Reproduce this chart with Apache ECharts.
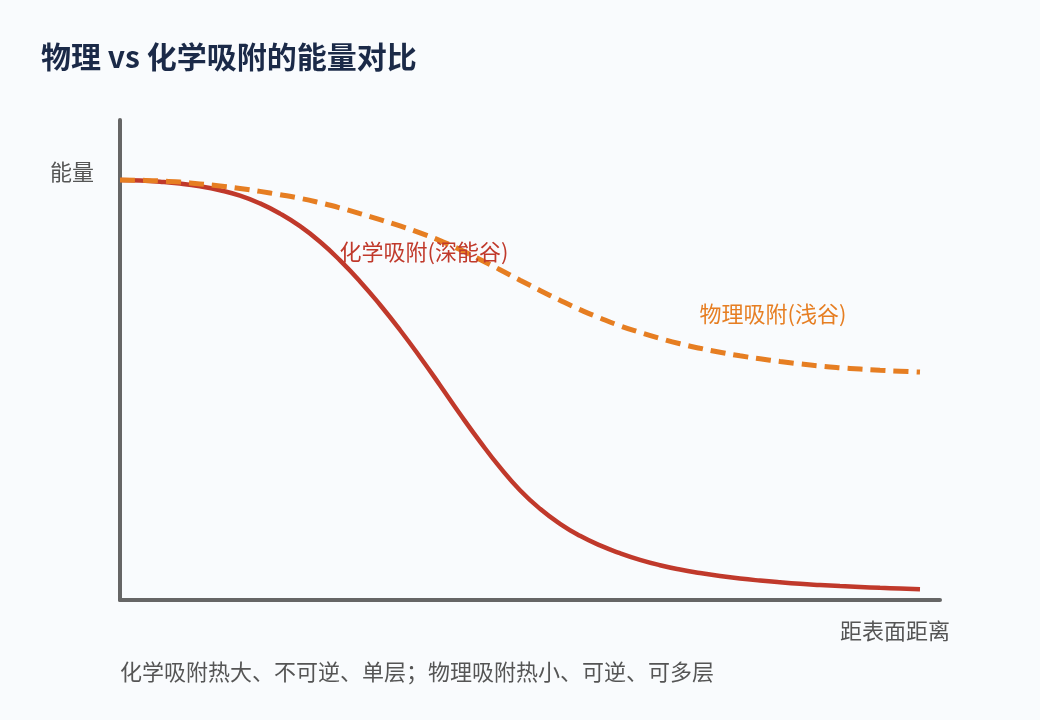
<!DOCTYPE html>
<html>
<head>
<meta charset="utf-8">
<script src="https://cdn.jsdelivr.net/npm/echarts@6/dist/echarts.min.js"></script>
<style>
    html, body { margin: 0; padding: 0; background: #f9fbfd; }
    #chart { width: 1040px; height: 720px; }
</style>
</head>
<body>
<div id="chart"></div>
<script>
const FONT = "'Noto Sans CJK SC', 'Noto Sans', sans-serif";

// distance from surface (arbitrary units)
const distance = [0, 1, 2, 3, 4, 5, 6, 7, 8, 9, 10, 11, 12, 13, 14, 15, 16, 17, 18, 19, 20,
    21, 22, 23, 24, 25, 26, 27, 28, 29, 30, 31, 32, 33, 34, 35, 36, 37, 38, 39, 40];

// chemisorption: deep well
const chemEnergy = [7.00, 6.99, 6.97, 6.94, 6.895, 6.83, 6.74, 6.61, 6.44, 6.23, 5.97,
    5.66, 5.31, 4.92, 4.50, 4.05, 3.58, 3.10, 2.64, 2.21, 1.83,
    1.52, 1.27, 1.07, 0.91, 0.78, 0.67, 0.58, 0.508, 0.45, 0.40,
    0.358, 0.324, 0.295, 0.27, 0.25, 0.232, 0.217, 0.203, 0.191, 0.18];

// physisorption: shallow well
const physEnergy = [7.00, 6.995, 6.985, 6.965, 6.935, 6.90, 6.86, 6.81, 6.755, 6.695, 6.62,
    6.535, 6.44, 6.34, 6.235, 6.12, 5.99, 5.84, 5.675, 5.505, 5.33,
    5.16, 4.995, 4.84, 4.70, 4.57, 4.46, 4.36, 4.27, 4.195, 4.13,
    4.07, 4.02, 3.975, 3.935, 3.90, 3.872, 3.849, 3.829, 3.813, 3.80];

const seriesNames = ['化学吸附(深能谷)', '物理吸附(浅谷)'];
// where each series label sits, in data coords
const labelCoords = [[15.2, 5.8], [32.65, 4.78]];

const titleText = '物理 vs 化学吸附的能量对比';
const yName = '能量';
const xName = '距表面距离';
const note = '化学吸附热大、不可逆、单层；物理吸附热小、可逆、可多层';

const chemColor = '#c0392b';
const physColor = '#e67e22';

function pairs(xs, ys) {
    return xs.map((x, i) => [x, ys[i]]);
}

function seriesLabel(text, coord, color) {
    return {
        symbol: 'circle',
        symbolSize: 0,
        silent: true,
        label: {
            show: true,
            position: 'inside',
            formatter: text,
            color: color,
            fontSize: 22,
            fontFamily: FONT
        },
        data: [{ coord: coord }]
    };
}

const chart = echarts.init(document.getElementById('chart'));

const axisLine = { show: true, lineStyle: { color: '#666', width: 4 } };

chart.setOption({
    backgroundColor: '#f9fbfd',
    animation: false,
    title: {
        text: titleText,
        left: 36,
        top: 37,
        textStyle: { fontSize: 30, fontWeight: 'bold', color: '#1b2a48', fontFamily: FONT }
    },
    grid: { left: 120, right: 100, top: 120, bottom: 120 },
    xAxis: {
        type: 'value',
        min: 0,
        max: 41,
        axisLine: axisLine,
        axisTick: { show: false },
        axisLabel: { show: false },
        splitLine: { show: false }
    },
    yAxis: {
        type: 'value',
        min: 0,
        max: 8,
        axisLine: axisLine,
        axisTick: { show: false },
        axisLabel: { show: false },
        splitLine: { show: false }
    },
    graphic: [
        {
            type: 'text', left: 50, top: 161,
            style: { text: yName, fontSize: 22, fontFamily: FONT, fill: '#555' }
        },
        {
            type: 'text', left: 840, top: 620,
            style: { text: xName, fontSize: 22, fontFamily: FONT, fill: '#555' }
        },
        {
            type: 'text', left: 120, top: 661,
            style: { text: note, fontSize: 22, fontFamily: FONT, fill: '#555' }
        }
    ],
    series: [
        {
            name: seriesNames[0],
            type: 'line',
            data: pairs(distance, chemEnergy),
            smooth: true,
            showSymbol: false,
            lineStyle: { color: chemColor, width: 4.5 },
            markPoint: seriesLabel(seriesNames[0], labelCoords[0], chemColor)
        },
        {
            name: seriesNames[1],
            type: 'line',
            data: pairs(distance, physEnergy),
            smooth: true,
            showSymbol: false,
            lineStyle: { color: physColor, width: 5, type: [15, 8] },
            markPoint: seriesLabel(seriesNames[1], labelCoords[1], physColor)
        }
    ]
});
</script>
</body>
</html>
